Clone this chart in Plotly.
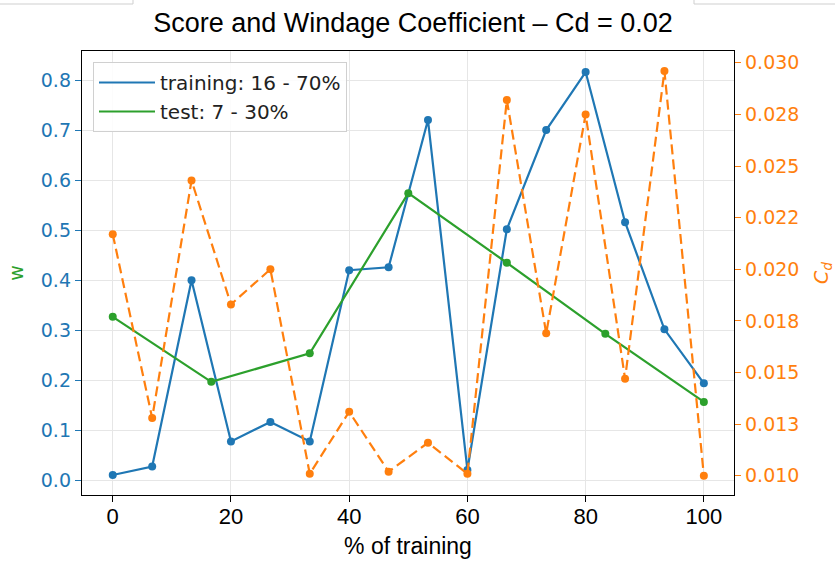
import plotly.graph_objects as go

# Percent of training data used for each run
pct_train = [0, 6.67, 13.33, 20, 26.67, 33.33, 40, 46.67, 53.33, 60, 66.67, 73.33, 80, 86.67, 93.33, 100]
w_train = [0.011, 0.028, 0.400, 0.078, 0.117, 0.078, 0.420, 0.426, 0.720, 0.021, 0.502, 0.700, 0.816, 0.516, 0.302, 0.194]

pct_test = [0, 16.67, 33.33, 50, 66.67, 83.33, 100]
w_test = [0.327, 0.197, 0.254, 0.574, 0.435, 0.293, 0.157]

cd_values = [0.0217, 0.0128, 0.0243, 0.0183, 0.0200, 0.0101, 0.0131, 0.0102,
             0.0116, 0.0101, 0.0282, 0.0169, 0.0275, 0.0147, 0.0296, 0.0100]

x_ticks = [0, 20, 40, 60, 80, 100]
w_ticks = [0.0, 0.1, 0.2, 0.3, 0.4, 0.5, 0.6, 0.7, 0.8]
cd_ticks = [0.010, 0.0125, 0.015, 0.0175, 0.020, 0.0225, 0.025, 0.0275, 0.030]
cd_tick_text = ["0.010", "0.013", "0.015", "0.018", "0.020", "0.022", "0.025", "0.028", "0.030"]

BLUE = "#1f77b4"
GREEN = "#2ca02c"
ORANGE = "#ff7f0e"
SANS = "Liberation Sans, Arial, sans-serif"
DEJAVU = "DejaVu Sans, sans-serif"

fig = go.Figure()
fig.add_trace(go.Scatter(
    x=pct_train, y=w_train, mode="lines+markers", showlegend=False,
    line=dict(color=BLUE, width=2.2), marker=dict(size=8, color=BLUE), yaxis="y"))
fig.add_trace(go.Scatter(
    x=pct_test, y=w_test, mode="lines+markers", showlegend=False,
    line=dict(color=GREEN, width=2.2), marker=dict(size=8, color=GREEN), yaxis="y"))
fig.add_trace(go.Scatter(
    x=pct_train, y=cd_values, mode="lines+markers", showlegend=False,
    line=dict(color=ORANGE, width=2.2, dash="10px,5px"),
    marker=dict(size=8, color=ORANGE), yaxis="y2"))

# Legend entries show the line style only
fig.add_trace(go.Scatter(x=[None], y=[None], mode="lines", name="training: 16 - 70%",
                         line=dict(color=BLUE, width=2.2)))
fig.add_trace(go.Scatter(x=[None], y=[None], mode="lines", name="test: 7 - 30%",
                         line=dict(color=GREEN, width=2.2)))

W, H = 835, 562
L, R, T, B = 82, 734, 51, 495

fig.update_layout(
    width=W, height=H,
    margin=dict(l=L, r=W - R, t=T, b=H - B),
    paper_bgcolor="white", plot_bgcolor="white",
    title=dict(text="Score and Windage Coefficient \u2013 Cd = 0.02",
               x=413 / W, xanchor="center", xref="container",
               y=1 - 23 / H, yanchor="middle", yref="container",
               font=dict(family=SANS, size=27, color="black")),
    xaxis=dict(range=[-5.2, 105.1], tickvals=x_ticks, ticks="outside", ticklen=6,
               tickcolor="black", tickwidth=1.2, automargin=False,
               ticklabelstandoff=-5,
               showline=True, linecolor="black", linewidth=1.4, mirror=True,
               showgrid=True, gridcolor="#e6e6e6", gridwidth=1, zeroline=False,
               tickfont=dict(family=SANS, size=22, color="black"),
               title=dict(text="% of training", standoff=10,
                          font=dict(family=SANS, size=23, color="black"))),
    yaxis=dict(range=[-0.029, 0.858], tickvals=w_ticks, tickformat=".1f",
               ticks="outside", ticklen=6, tickcolor=BLUE, tickwidth=1.2,
               automargin=False,
               showline=True, linecolor="black", linewidth=1.4,
               showgrid=True, gridcolor="#e6e6e6", gridwidth=1, zeroline=False,
               tickfont=dict(family=DEJAVU, size=19, color=BLUE),
               title=dict(text="w", standoff=12,
                          font=dict(family=DEJAVU, size=19, color=GREEN))),
    yaxis2=dict(range=[0.00907, 0.03057], overlaying="y", side="right",
                tickvals=cd_ticks, ticktext=cd_tick_text,
                ticks="outside", ticklen=6, tickcolor=ORANGE, tickwidth=1.2,
                automargin=False,
                showline=True, linecolor="black", linewidth=1.4,
                showgrid=False, zeroline=False,
                tickfont=dict(family=DEJAVU, size=19, color=ORANGE),
                title=dict(text="<i>C</i><sub><i>d</i></sub>", standoff=19,
                           font=dict(family=DEJAVU, size=19, color=ORANGE))),
    legend=dict(x=(93 - L) / (R - L), y=1 - (62 - T) / (B - T),
                xanchor="left", yanchor="top",
                bgcolor="rgba(255,255,255,0.85)", bordercolor="#d0d0d0", borderwidth=1,
                font=dict(family=DEJAVU, size=20, color="#222222"),
                itemwidth=56, tracegroupgap=0),
    showlegend=True,
)

# Thin frame edges along the top of the page
def px_x(px):
    return (px - L) / (R - L)

def px_y(py):
    return 1 - (py - T) / (B - T)

for x0, x1, xv in [(0, 133, 133), (694, 835, 694)]:
    fig.add_shape(type="line", xref="paper", yref="paper",
                  x0=px_x(x0), x1=px_x(x1), y0=px_y(4), y1=px_y(4),
                  line=dict(color="#cfcfcf", width=1))
    fig.add_shape(type="line", xref="paper", yref="paper",
                  x0=px_x(xv), x1=px_x(xv), y0=px_y(0), y1=px_y(4),
                  line=dict(color="#cfcfcf", width=1))

fig.write_html("out.html")
